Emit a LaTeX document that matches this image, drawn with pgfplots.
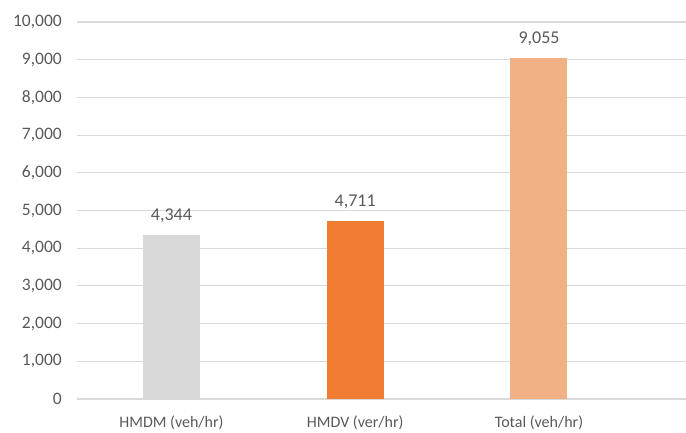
\documentclass[border=0pt]{standalone}
\usepackage{fontspec}
\setmainfont{Carlito}
\usepackage{pgfplots}
\pgfplotsset{compat=1.18}
\definecolor{txt}{HTML}{595959}
\definecolor{gridc}{HTML}{D9D9D9}
\definecolor{barA}{HTML}{D9D9D9}
\definecolor{barB}{HTML}{F07D32}
\definecolor{barC}{HTML}{F2B085}
\begin{document}
\begin{tikzpicture}
\begin{axis}[
  name=ax,
  scale only axis,
  width=609bp, height=377bp,
  xmin=-0.514, xmax=2.8,
  ymin=0, ymax=10000,
  ytick={0,1000,...,10000},
  xtick={0,1,2},
  xticklabels={HMDM (veh/hr), HMDV (ver/hr), Total (veh/hr)},
  axis line style={draw=none},
  tick style={draw=none},
  ymajorgrids,
  grid style={gridc, line width=1.1bp},
  /pgf/number format/assume math mode=true,
  /pgf/number format/1000 sep={,},
  scaled y ticks=false,
  yticklabel style={font=\fontsize{17.5bp}{20bp}\selectfont, text=txt, inner sep=0pt, xshift=-15bp},
  xticklabel style={font=\fontsize{16bp}{19bp}\selectfont, text=txt, inner sep=0pt, yshift=-12bp},
  ybar, bar shift=0pt, bar width=57bp,
  nodes near coords,
  every node near coord/.append style={font=\fontsize{18bp}{20bp}\selectfont, text=txt, inner sep=0pt, yshift=12bp, /pgf/number format/1000 sep={,}, /pgf/number format/assume math mode=true},
]
\addplot[fill=barA, draw=none] coordinates {(0,4344)};
\addplot[fill=barB, draw=none] coordinates {(1,4711)};
\addplot[fill=barC, draw=none] coordinates {(2,9055)};
\end{axis}
\pgfresetboundingbox
\path ([shift={(-77bp,-34bp)}]ax.south west) rectangle ([shift={(0bp,22bp)}]ax.north east);
\end{tikzpicture}
\end{document}
